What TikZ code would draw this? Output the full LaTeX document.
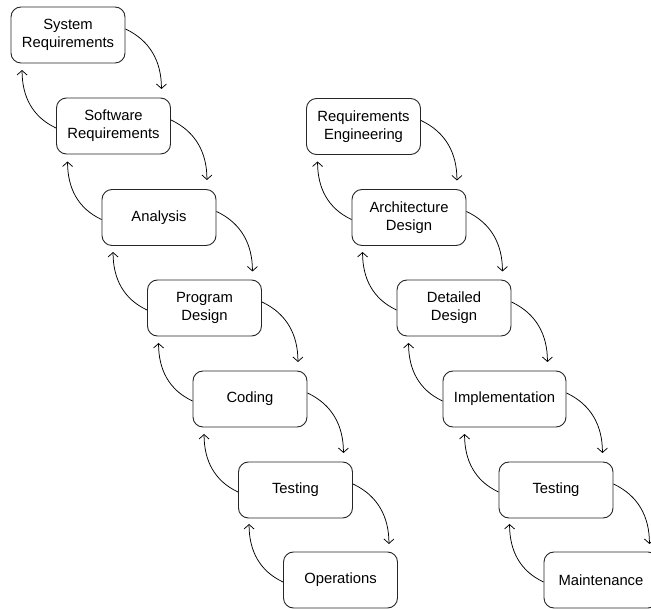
\documentclass[tikz,border=0pt]{standalone}
\usepackage{fontspec}
\setmainfont{Liberation Sans}
\usetikzlibrary{arrows.meta}
\begin{document}
\begin{tikzpicture}[x=1pt,y=-1pt,
  phase/.style={draw=black!85,line width=0.9pt,rounded corners=10pt,minimum width=114pt,minimum height=56pt,inner sep=0pt,align=center,font=\fontsize{14.8}{18}\selectfont},
  arr/.style={line width=0.75pt,-{Straight Barb[length=4.5pt,width=10pt]}},
  down/.style={arr,out=-25,in=90},
  up/.style={arr,out=155,in=-90}]
\useasboundingbox (0,0) rectangle (651,609);
% left column
\node[phase] (s1) at (68,35) {System\\Requirements};
\node[phase] (s2) at (113.5,126) {Software\\Requirements};
\node[phase] (s3) at (159,217.5) {Analysis};
\node[phase] (s4) at (204.5,308) {Program\\Design};
\node[phase] (s5) at (250,399) {Coding};
\node[phase] (s6) at (295.5,490) {Testing};
\node[phase] (s7) at (340.5,580) {Operations};
% right column
\node[phase] (r1) at (363.5,126.5) {Requirements\\Engineering};
\node[phase] (r2) at (409,217.5) {Architecture\\Design};
\node[phase] (r3) at (454,308) {Detailed\\Design};
\node[phase,minimum width=123pt] (r4) at (504.5,399) {Implementation};
\node[phase] (r5) at (556,490) {Testing};
\node[phase] (r6) at (601,580) {Maintenance};
% connectors
\foreach \a/\b in {s1/s2,s2/s3,s3/s4,s4/s5,s5/s6,s6/s7,r1/r2,r2/r3,r3/r4,r4/r5,r5/r6}{
  \draw[down] ([yshift=6pt]\a.east) to ([xshift=36pt,yshift=-54pt]\a.east);
  \draw[up] ([yshift=-2pt]\b.west) to ([xshift=-34pt,yshift=56pt]\b.west);
}
\end{tikzpicture}
\end{document}
